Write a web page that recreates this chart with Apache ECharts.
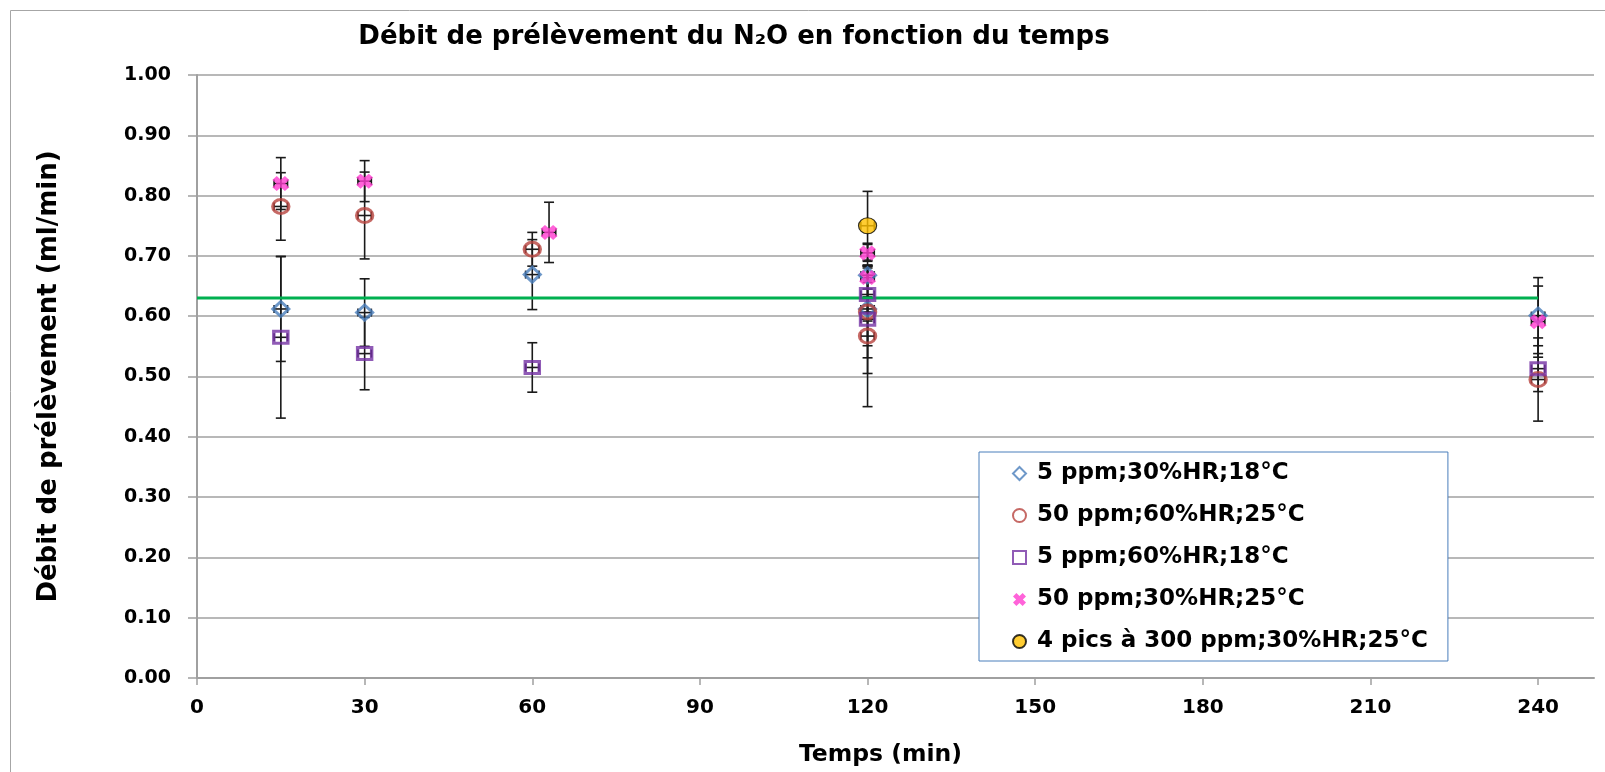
<!DOCTYPE html>
<html><head><meta charset="utf-8">
<script src="https://cdn.jsdelivr.net/npm/echarts@6/dist/echarts.min.js"></script>
<style>html,body{margin:0;padding:0;background:#fff}#c{width:1605px;height:772px}</style>
</head><body><div id="c"></div>
<script>
// ---- data ----
const titleText = 'Débit de prélèvement du N₂O en fonction du temps';
const xAxisTitle = 'Temps (min)';
const yAxisTitle = 'Débit de prélèvement (ml/min)';
const seriesNames = ['5 ppm;30%HR;18°C', '50 ppm;60%HR;25°C', '5 ppm;60%HR;18°C', '50 ppm;30%HR;25°C', '4 pics à 300 ppm;30%HR;25°C'];
const xTickValues = [0, 30, 60, 90, 120, 150, 180, 210, 240];

const s1X = [15, 30, 60, 120, 120, 240];
const s1Y = [0.612, 0.606, 0.669, 0.668, 0.612, 0.601];
const s1Err = [0.087, 0.056, 0.058, 0.012, 0.020, 0.063];

const s2X = [15, 30, 60, 120, 120, 240];
const s2Y = [0.782, 0.767, 0.711, 0.607, 0.567, 0.495];
const s2Err = [0.056, 0.072, 0.028, 0.076, 0.117, 0.069];

const s3X = [15, 30, 60, 120, 120, 240];
const s3Y = [0.565, 0.538, 0.515, 0.636, 0.595, 0.513];
const s3Err = [0.134, 0.060, 0.041, 0.085, 0.090, 0.038];

const s4X = [15, 30, 63, 120, 120, 240];
const s4Y = [0.820, 0.824, 0.739, 0.705, 0.664, 0.591];
const s4Err = [0.043, 0.034, 0.050, 0.014, 0.019, 0.059];

const s5X = [120];
const s5Y = [0.750];
const s5Err = [0.057];

const xErrMin = 1.2;          // horizontal error (min)
const refLineValue = 0.63;    // green reference line
const refLineX = [0, 240];

// ---- build ----
const FONT = 'DejaVu Sans';
const allX = [s1X, s2X, s3X, s4X, s5X];
const allY = [s1Y, s2Y, s3Y, s4Y, s5Y];
const allE = [s1Err, s2Err, s3Err, s4Err, s5Err];
const pts = (xs, ys) => xs.map((x, i) => [x, ys[i]]);
const errData = [];
allX.forEach((xs, k) => xs.forEach((x, i) => errData.push([x, allY[k][i], allE[k][i]])));

const xPath = 'path://M0,2.6 L2.6,0 L5,2.4 L7.4,0 L10,2.6 L7.6,5 L10,7.4 L7.4,10 L5,7.6 L2.6,10 L0,7.4 L2.4,5 Z';
const styles = [
  { symbol: 'diamond', size: [16, 15], itemStyle: { color: 'rgba(255,255,255,0)', borderColor: '#4a7ebb', borderWidth: 3 } },
  { symbol: 'circle', size: [16, 14], itemStyle: { color: 'rgba(255,255,255,0)', borderColor: '#b8443f', borderWidth: 3.2 } },
  { symbol: 'rect', size: [14, 12], itemStyle: { color: 'rgba(255,255,255,0)', borderColor: '#7432a4', borderWidth: 3.2 } },
  { symbol: xPath, size: [17, 15], itemStyle: { color: '#ff3ccf', borderWidth: 0 } },
  { symbol: 'circle', size: [18, 16], itemStyle: { color: '#ffc000', borderColor: '#000', borderWidth: 1.2 } }
];

const scatterSeries = seriesNames.map((n, k) => ({
  name: n, type: 'scatter', z: 5,
  symbol: styles[k].symbol, symbolSize: styles[k].size,
  itemStyle: styles[k].itemStyle,
  data: pts(allX[k], allY[k])
}));

const errStyle = { stroke: '#1a1a1a', lineWidth: 1.6 };
const errSeries = {
  type: 'custom', z: 1, silent: true,
  data: errData,
  encode: { x: 0, y: 1 },
  renderItem: function (params, api) {
    const x = api.value(0), y = api.value(1), e = api.value(2);
    const t = api.coord([x, y + e]), b = api.coord([x, y - e]);
    const l = api.coord([x - xErrMin, y]), r = api.coord([x + xErrMin, y]);
    const cw = 5, ch = 4;
    const L = (x1, y1, x2, y2) => ({ type: 'line', shape: { x1, y1, x2, y2 }, style: errStyle });
    return { type: 'group', children: [
      L(t[0], t[1], b[0], b[1]),
      L(t[0] - cw, t[1], t[0] + cw, t[1]),
      L(b[0] - cw, b[1], b[0] + cw, b[1]),
      L(l[0], l[1], r[0], r[1]),
      L(l[0], l[1] - ch, l[0], l[1] + ch),
      L(r[0], r[1] - ch, r[0], r[1] + ch)
    ] };
  }
};

const refSeries = {
  type: 'line', z: 3, silent: true, symbol: 'none',
  lineStyle: { color: '#00b050', width: 3 },
  data: refLineX.map(x => [x, refLineValue])
};

const axisGray = '#a0a0a0';
const option = {
  animation: false,
  backgroundColor: '#fff',
  textStyle: { fontFamily: FONT },
  grid: { left: 197, right: 11, top: 75, bottom: 94, containLabel: false },
  graphic: [
    { type: 'rect', shape: { x: 10.5, y: 10.5, width: 1700, height: 900 }, style: { fill: 'none', stroke: '#a6a6a6', lineWidth: 1 }, silent: true, z: -10 },
    { type: 'text', x: 734, y: 37, style: { text: titleText, fontFamily: FONT, fontWeight: 'bold', fontSize: 26, fill: '#000', textAlign: 'center', textVerticalAlign: 'middle' } }
  ],
  legend: {
    data: seriesNames,
    orient: 'vertical', left: 979, top: 452,
    padding: [10, 20, 8, 33],
    itemWidth: 13, itemHeight: 13, itemGap: 19,
    borderColor: '#4a7ebb', borderWidth: 1, backgroundColor: '#fff',
    textStyle: { fontFamily: FONT, fontWeight: 'bold', fontSize: 23, lineHeight: 22, color: '#000', padding: [0, 0, 0, 6] }
  },
  xAxis: {
    type: 'value', min: 0, max: 250, interval: 30,
    name: xAxisTitle, nameLocation: 'middle', nameGap: 65,
    nameTextStyle: { fontFamily: FONT, fontWeight: 'bold', fontSize: 23.5, color: '#000', padding: [0, 30, 0, 0] },
    axisLine: { show: true, lineStyle: { color: axisGray, width: 2 } },
    axisTick: { show: true, length: 7, lineStyle: { color: axisGray, width: 1.5 }, customValues: xTickValues },
    axisLabel: { fontFamily: FONT, fontWeight: 'bold', fontSize: 20, color: '#000', margin: 20, customValues: xTickValues },
    splitLine: { show: false }
  },
  yAxis: {
    type: 'value', min: 0, max: 1, interval: 0.1,
    name: yAxisTitle, nameLocation: 'middle', nameGap: 135, nameRotate: 90,
    nameTextStyle: { fontFamily: FONT, fontWeight: 'bold', fontSize: 26, color: '#000' },
    axisLine: { show: true, lineStyle: { color: axisGray, width: 2 } },
    axisTick: { show: true, length: 9, lineStyle: { color: axisGray, width: 1.5 } },
    axisLabel: { fontFamily: FONT, fontWeight: 'bold', fontSize: 19, color: '#000', margin: 26, formatter: v => v.toFixed(2) },
    splitLine: { show: true, lineStyle: { color: axisGray, width: 1.5 } }
  },
  series: [errSeries, refSeries].concat(scatterSeries)
};

const chart = echarts.init(document.getElementById('c'), null, { renderer: 'canvas' });
chart.setOption(option);
</script>
</body></html>
